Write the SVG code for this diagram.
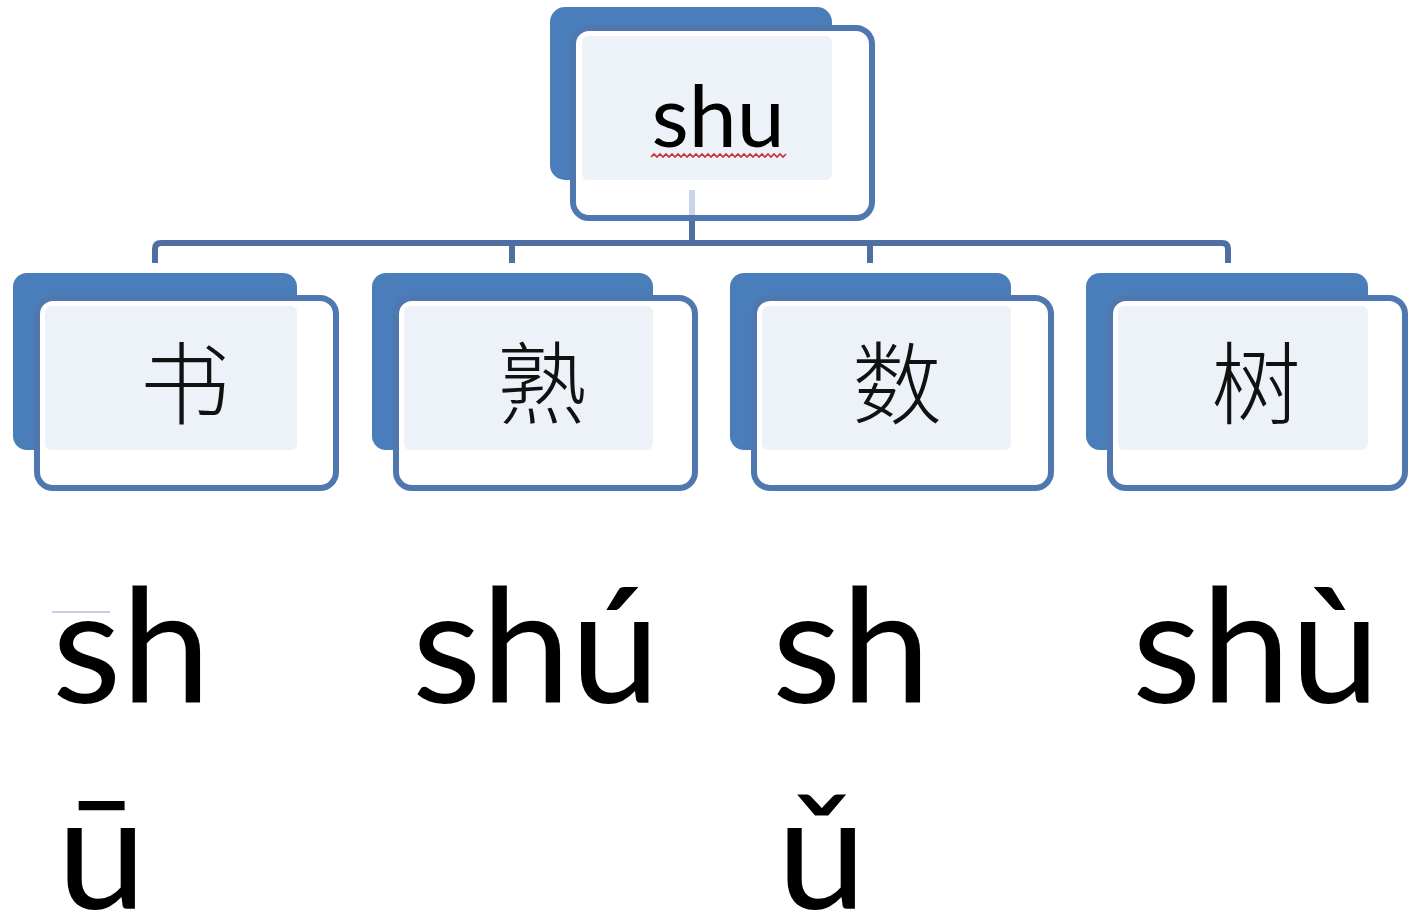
<svg xmlns="http://www.w3.org/2000/svg" width="1408" height="920" viewBox="0 0 1408 920">
<style>
.back{fill:#4a7ebb}
.front{fill:#ffffff;stroke:#4f78b0;stroke-width:6}
.inner{fill:#edf1f8}
.conn{fill:none;stroke:#4f6fa3;stroke-width:6;stroke-linecap:butt}
.hz{font-family:"Noto Sans CJK SC","Noto Sans CJK JP",sans-serif;font-size:90px;font-weight:300;fill:#111;text-anchor:middle}
.py{font-family:Lato,"Open Sans",sans-serif;fill:#000}
</style>
<rect width="1408" height="920" fill="#ffffff"/>
<g id="connectors">
<path class="conn" d="M155,263 V249 Q155,243 161,243 H1222 Q1228,243 1228,249 V263"/>
<path class="conn" d="M512,243 V263 M870,243 V263"/>
<path class="conn" d="M692,218 V243"/>
</g>
<g id="node-top">
<rect class="back" x="550" y="7" width="282" height="173" rx="15"/>
<rect class="front" x="573" y="28" width="299" height="190" rx="16"/>
<rect class="inner" x="582" y="36" width="250" height="144" rx="6"/>
<line x1="692" y1="190" x2="692" y2="215" stroke="#c9d5ea" stroke-width="6"/>
<text class="py" x="718" y="147" font-size="86" text-anchor="middle">shu</text>
<path d="M651,157 l3,-3 l3,3 l3,-3 l3,3 l3,-3 l3,3 l3,-3 l3,3 l3,-3 l3,3 l3,-3 l3,3 l3,-3 l3,3 l3,-3 l3,3 l3,-3 l3,3 l3,-3 l3,3 l3,-3 l3,3 l3,-3 l3,3 l3,-3 l3,3 l3,-3 l3,3 l3,-3 l3,3 l3,-3 l3,3 l3,-3 l3,3 l3,-3 l3,3 l3,-3 l3,3 l3,-3 l3,3 l3,-3 l3,3 l3,-3 l3,3 l3,-3" fill="none" stroke="#c8333c" stroke-width="1.6"/>
</g>
<g id="node-shu1">
<rect class="back" x="13" y="273" width="284" height="177" rx="14"/>
<rect class="front" x="37" y="298" width="299" height="190" rx="16"/>
<rect class="inner" x="45" y="306" width="252" height="144" rx="6"/>
<text class="hz" x="185" y="417">书</text>
</g>
<g id="node-shu2">
<rect class="back" x="372" y="273" width="281" height="177" rx="14"/>
<rect class="front" x="396" y="298" width="299" height="190" rx="16"/>
<rect class="inner" x="404" y="306" width="249" height="144" rx="6"/>
<text class="hz" x="542" y="417">熟</text>
</g>
<g id="node-shu3">
<rect class="back" x="730" y="273" width="281" height="177" rx="14"/>
<rect class="front" x="754" y="298" width="297" height="190" rx="16"/>
<rect class="inner" x="762" y="306" width="249" height="144" rx="6"/>
<text class="hz" x="897" y="417">数</text>
</g>
<g id="node-shu4">
<rect class="back" x="1086" y="273" width="282" height="177" rx="14"/>
<rect class="front" x="1110" y="298" width="295" height="190" rx="16"/>
<rect class="inner" x="1118" y="306" width="250" height="144" rx="6"/>
<text class="hz" x="1256" y="417">树</text>
</g>
<g id="pinyin">
<line x1="52" y1="612" x2="110" y2="612" stroke="#c4cfe3" stroke-width="2"/>
<text class="py" x="52" y="703" font-size="160">sh</text>
<text class="py" x="57" y="909" font-size="160">ū</text>
<text class="py" x="412" y="703" font-size="160">shú</text>
<text class="py" x="772" y="703" font-size="160">sh</text>
<text class="py" x="777" y="909" font-size="160">ǔ</text>
<text class="py" x="1132" y="703" font-size="160">shù</text>
</g>
</svg>
